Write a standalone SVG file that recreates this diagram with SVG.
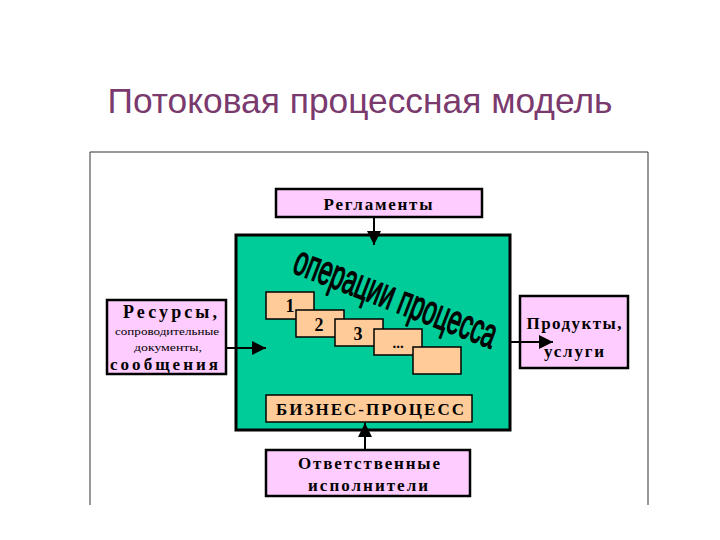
<svg xmlns="http://www.w3.org/2000/svg" width="720" height="540" viewBox="0 0 720 540">
<style>
.pink{fill:#ffccff;stroke:#000;stroke-width:2.5}
.peach{fill:#ffcc99;stroke:#000;stroke-width:1.5}
.green{fill:#00cc99;stroke:#000;stroke-width:3}
.t{font-family:"Liberation Serif","DejaVu Serif",serif;font-weight:bold;fill:#000;text-anchor:middle}
.s{font-family:"Liberation Serif","DejaVu Serif",serif;fill:#000;text-anchor:middle}
.ln{stroke:#000;stroke-width:2;fill:none}
</style>
<defs>
<marker id="ah2" viewBox="0 0 10 10" refX="10" refY="5" markerWidth="16" markerHeight="14" orient="auto" markerUnits="userSpaceOnUse">
<path d="M0,0 L10,5 L0,10 Z" fill="#000"/>
</marker>
</defs>
<rect width="720" height="540" fill="#fff"/>
<text x="360" y="113" font-family="'Liberation Sans','DejaVu Sans',sans-serif" font-size="35" fill="#7a3a6e" text-anchor="middle" textLength="505" lengthAdjust="spacingAndGlyphs">Потоковая процессная модель</text>
<path d="M90,505 V152 H648 V505" fill="none" stroke="#333" stroke-width="1"/>

<g id="process">
<rect class="green" x="236" y="235" width="274" height="195"/>
<text transform="translate(291,272) rotate(21) scale(1,1.55)" font-family="'Liberation Sans','DejaVu Sans',sans-serif" font-size="27" fill="#000" textLength="214" lengthAdjust="spacingAndGlyphs" stroke="#000" stroke-width="0.9">операции процесса</text>
</g>
<g id="op1"><rect class="peach" x="266" y="292" width="48" height="27"/><text class="t" x="290" y="312" font-size="18">1</text></g>
<g id="op2"><rect class="peach" x="296" y="310" width="48" height="27"/><text class="t" x="319" y="331" font-size="18">2</text></g>
<g id="op3"><rect class="peach" x="335" y="319" width="48" height="27"/><text class="t" x="358" y="340" font-size="18">3</text></g>
<g id="op4"><rect class="peach" x="374" y="329" width="48" height="26"/><text class="t" x="398" y="348" font-size="15">...</text></g>
<g id="op5"><rect class="peach" x="413" y="347" width="48" height="27"/></g>
<g id="bp"><rect class="peach" x="266" y="395" width="206" height="27"/><text class="t" x="370" y="415" font-size="17" textLength="188">БИЗНЕС-ПРОЦЕСС</text></g>

<g id="reglament"><rect class="pink" x="276" y="189" width="206" height="28"/><text class="t" x="378" y="210" font-size="17" textLength="109">Регламенты</text></g>
<g id="resources"><rect class="pink" x="107" y="300" width="119" height="74"/>
<text class="t" x="170" y="318" font-size="18" textLength="94">Ресурсы,</text>
<text class="s" x="167" y="335" font-size="11" textLength="104" lengthAdjust="spacingAndGlyphs">сопроводительные</text>
<text class="s" x="168" y="351" font-size="11" textLength="68" lengthAdjust="spacingAndGlyphs">документы,</text>
<text class="t" x="164" y="370" font-size="17" textLength="108">сообщения</text></g>
<g id="products"><rect class="pink" x="520" y="296" width="108" height="72"/>
<text class="t" x="574" y="329" font-size="17" textLength="95">Продукты,</text>
<text class="t" x="574" y="357" font-size="17" textLength="60">услуги</text></g>
<g id="performers"><rect class="pink" x="266" y="450" width="204" height="46"/>
<text class="t" x="369" y="469" font-size="17" textLength="142">Ответственные</text>
<text class="t" x="368" y="491" font-size="17" textLength="120">исполнители</text></g>

<g id="connectors">
<line class="ln" x1="374" y1="217" x2="374" y2="245" marker-end="url(#ah2)"/>
<line class="ln" x1="226" y1="348" x2="266" y2="348" marker-end="url(#ah2)"/>
<line class="ln" x1="510" y1="342" x2="553" y2="342" marker-end="url(#ah2)"/>
<line class="ln" x1="365" y1="450" x2="365" y2="423" marker-end="url(#ah2)"/>
</g>
</svg>
